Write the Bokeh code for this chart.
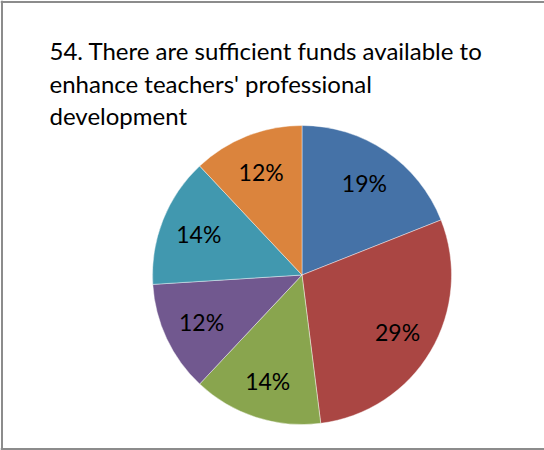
import numpy as np
from bokeh.plotting import figure
from bokeh.models import Range1d, Label, ColumnDataSource, Span
from bokeh.core.properties import value
from bokeh.embed import file_html
from bokeh.resources import INLINE

title_lines = ["54. There are sufficient funds available to",
               "enhance teachers' professional",
               "development"]
shares = [19, 29, 14, 12, 14, 12]
labels = ["19%", "29%", "14%", "12%", "14%", "12%"]
colors = ["#4572A7", "#AA4643", "#89A54E", "#71588F", "#4198AF", "#DB843D"]

W, H = 544, 450
p = figure(width=W, height=H, output_backend="svg", toolbar_location=None,
           x_range=Range1d(0, W), y_range=Range1d(0, H), min_border=0)
p.xaxis.visible = False
p.yaxis.visible = False
p.xgrid.visible = False
p.ygrid.visible = False
p.outline_line_color = None
p.background_fill_color = "white"
p.border_fill_color = "white"

# frame lines on top, left and bottom (no right edge in the reference)
for loc, dim in [(H - 1.5, "width"), (1.5, "width"), (1.5, "height")]:
    p.add_layout(Span(location=loc, dimension=dim, line_color="#8c8c8c", line_width=2))

cx, cy, R = 301.5, H - 274.5, 149.5
frac = np.array(shares, dtype=float) / sum(shares)
cum = np.concatenate([[0], np.cumsum(frac)])
start = np.pi / 2 - 2 * np.pi * cum[:-1]
end = np.pi / 2 - 2 * np.pi * cum[1:]
mid = (start + end) / 2
src = ColumnDataSource(dict(start=start, end=end, color=colors,
                            lx=cx + 111 * np.cos(mid), ly=cy + 111 * np.sin(mid),
                            label=labels))
p.wedge(x=cx, y=cy, radius=R, start_angle="end", end_angle="start",
        fill_color="color", line_color="white", line_width=0.6, line_alpha=0.7,
        source=src)
p.text(x="lx", y="ly", text="label", source=src, text_align="center",
       text_baseline="middle", text_font=value("Lato"), text_font_size="23px",
       text_color="black")

for i, t in enumerate(title_lines):
    p.add_layout(Label(x=49, y=H - 50 - 32.5 * i, x_units="screen", y_units="screen",
                       text=t, text_font="Lato", text_font_size="24px",
                       text_color="black", text_baseline="alphabetic"))

open("out.html", "w").write(file_html(p, INLINE))
